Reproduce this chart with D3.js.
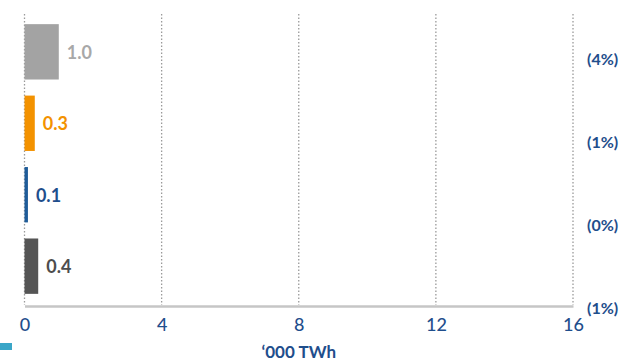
<!DOCTYPE html>
<html>
<head>
<meta charset="utf-8">
<script src="https://cdn.jsdelivr.net/npm/d3@7/dist/d3.min.js"></script>
<style>
  html, body { margin: 0; padding: 0; background: #fff; }
  svg { display: block; font-family: "Lato", "Open Sans", sans-serif; }
</style>
</head>
<body>
<svg id="chart" width="632" height="364"></svg>
<script>
// Generation by source, '000 TWh
const categories = ["A", "B", "C", "D"];
const values = [1.0, 0.3, 0.1, 0.4];
const valueLabels = ["1.0", "0.3", "0.1", "0.4"];
const barColors = ["#a3a3a3", "#f39200", "#1f5c99", "#555555"];
const labelColors = ["#a8a8a8", "#f39200", "#1f4e8c", "#4d4d4d"];
const shareLabels = ["(4%)", "(1%)", "(0%)", "(1%)"];
const xTicks = [0, 4, 8, 12, 16];
const axisTitle = "\u2018000 TWh";

const svg = d3.select("#chart");
const blue = "#1f4e8c";

const x = d3.scaleLinear().domain([0, 16]).range([24.5, 573]);
const y = d3.scaleBand().domain(categories).range([12, 306])
  .paddingInner(0.225).paddingOuter(0.17);

// dotted vertical gridlines
svg.append("g").selectAll("line").data(xTicks).join("line")
  .attr("x1", d => x(d)).attr("x2", d => x(d))
  .attr("y1", 14).attr("y2", 305)
  .attr("stroke", "#9a9a9a").attr("stroke-width", 1.3)
  .attr("stroke-dasharray", "1.5,2");

// baseline axis
const xAxis = d3.axisBottom(x).tickValues(xTicks).tickSize(0).tickPadding(12)
  .tickFormat(d3.format("d"));
const gx = svg.append("g").attr("transform", "translate(0,306)").call(xAxis);
gx.select(".domain").attr("stroke", "#c6c6c6").attr("stroke-width", 2.5);
gx.selectAll("text").attr("fill", blue).attr("font-size", 18)
  .attr("font-weight", 500).attr("font-family", "Lato, sans-serif");

// axis title
svg.append("text").attr("x", x(8)).attr("y", 358)
  .attr("text-anchor", "middle").attr("fill", blue)
  .attr("font-size", 17).attr("font-weight", 700)
  .text(axisTitle);

// bars
svg.append("g").selectAll("rect").data(categories).join("rect")
  .attr("x", x(0))
  .attr("y", d => y(d))
  .attr("width", (d, i) => x(values[i]) - x(0))
  .attr("height", y.bandwidth())
  .attr("fill", (d, i) => barColors[i]);

// value labels
svg.append("g").selectAll("text").data(categories).join("text")
  .attr("x", (d, i) => x(values[i]) + 8)
  .attr("y", d => y(d) + y.bandwidth() / 2 + 7)
  .attr("fill", (d, i) => labelColors[i])
  .attr("font-size", 18).attr("font-weight", 700)
  .text((d, i) => valueLabels[i]);

// share labels on the right
const shareY = d3.scalePoint().domain(categories).range([59, 308]);
svg.append("g").selectAll("text").data(categories).join("text")
  .attr("x", 587)
  .attr("y", d => shareY(d) + 6)
  .attr("fill", blue)
  .attr("font-size", 16).attr("font-weight", 700)
  .text((d, i) => shareLabels[i]);

// legend swatch
svg.append("rect").attr("x", 0).attr("y", 343).attr("width", 12).attr("height", 7)
  .attr("fill", "#3aa6c8");
</script>
</body>
</html>
